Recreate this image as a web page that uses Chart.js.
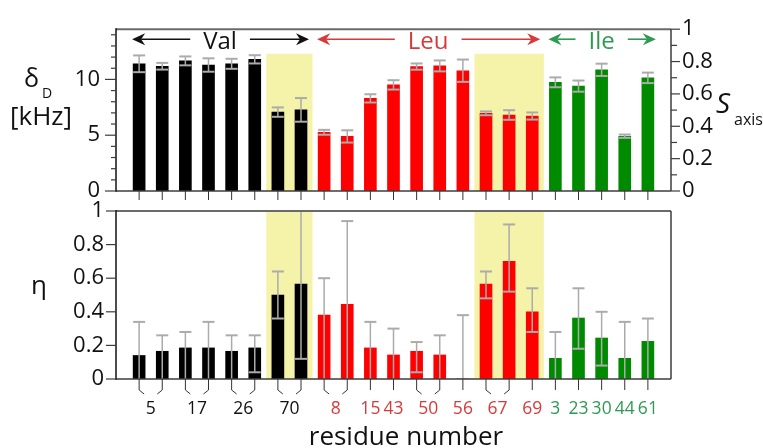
<!DOCTYPE html>
<html>
<head>
<meta charset="utf-8">
<script src="https://cdn.jsdelivr.net/npm/chart.js@4/dist/chart.umd.min.js"></script>
<style>
html,body{margin:0;padding:0;background:#fff;}
#wrap{position:relative;width:763px;height:448px;overflow:hidden;font-family:'Open Sans',sans-serif;color:#111;}
canvas{position:absolute;left:0;top:0;}
.lbl{position:absolute;white-space:nowrap;line-height:1;color:#111;}
</style>
</head>
<body>
<div id="wrap">
<canvas id="topChart" width="763" height="448"></canvas>
<canvas id="botChart" width="763" height="448"></canvas>
<div class="lbl" style="left:24px;top:65px;font-size:25px;">δ</div>
<div class="lbl" style="left:42px;top:86px;font-size:14px;">D</div>
<div class="lbl" style="left:10px;top:102px;font-size:26px;">[kHz]</div>
<div class="lbl" style="left:716px;top:88px;font-size:28px;font-style:italic;">S</div>
<div class="lbl" style="left:734px;top:111px;font-size:16px;">axis</div>
<div class="lbl" style="left:31px;top:271px;font-size:26px;">η</div>
<div class="lbl" style="left:406px;top:422px;font-size:26px;transform:translateX(-50%);">residue number</div>
</div>
<script>
// ---------- data ----------
const residues          = ['5','17','26','70','8','15','43','50','56','67','69','3','23','30','44','61'];
const residueAA         = ['Val','Val','Val','Val','Leu','Leu','Leu','Leu','Leu','Leu','Leu','Ile','Ile','Ile','Ile','Ile'];
const methylsPerResidue = [2,2,2,2,2,1,1,2,1,2,1,1,1,1,1,1];
const highlightedResidues = ['70','67','69'];
const aminoAcids        = ['Val','Leu','Ile'];

// residual quadrupolar coupling δD (kHz) and its error, one per methyl bar
const deltaD    = [11.4,11.18,11.66,11.29,11.4,11.8,7.07,7.27,5.26,4.89,8.30,9.51,11.15,11.21,10.78,6.96,6.81,6.72,9.74,9.40,10.86,4.91,10.14];
const deltaDErr = [0.75,0.30,0.40,0.60,0.45,0.37,0.42,1.06,0.22,0.55,0.37,0.42,0.28,0.49,1.00,0.17,0.43,0.32,0.44,0.50,0.55,0.15,0.47];

// asymmetry parameter η with upper / lower error limits (null = below 0)
const eta     = [0.14,0.165,0.185,0.185,0.165,0.185,0.50,0.565,0.38,0.445,0.185,0.143,0.165,0.143,0.0,0.565,0.70,0.40,0.123,0.363,0.244,0.123,0.224];
const etaHigh = [0.34,0.26,0.28,0.34,0.26,0.26,0.64,1.00,0.60,0.94,0.34,0.30,0.22,0.26,0.38,0.64,0.92,0.54,0.28,0.54,0.40,0.34,0.36];
const etaLow  = [null,null,null,null,null,0.04,0.36,0.12,null,null,null,null,0.04,null,null,0.48,0.52,0.28,null,0.18,0.08,null,null];

const kHzTicks      = [0,1,2,3,4,5,6,7,8,9,10,11,12,13,14];
const kHzTickLabels = ['0','','','','','5','','','','','10','','','',''];
const sTicks        = [0,0.1,0.2,0.3,0.4,0.5,0.6,0.7,0.8,0.9,1];
const sTickLabels   = ['0','','0.2','','0.4','','0.6','','0.8','','1'];
const etaTicks      = [0,0.2,0.4,0.6,0.8,1];
const etaTickLabels = ['0','0.2','0.4','0.6','0.8','1'];

// ---------- styling ----------
const barColor  = {Val:'#000000', Leu:'#ff0000', Ile:'#008a00'};
const textColor = {Val:'#111111', Leu:'#d63a3a', Ile:'#2f9a52'};
const FONT = "'Open Sans', sans-serif";
const ERR = '#ababab';
const FRAME = '#3c3c3c';
const HIGHLIGHT = '#f5f2aa';

// ---------- derived layout helpers ----------
const barAA = [], barResidue = [];
residues.forEach((r, k) => { for (let j = 0; j < methylsPerResidue[k]; j++) { barAA.push(residueAA[k]); barResidue.push(k); } });
const barX = barAA.map((_, i) => i + 1);
const residueBars = residues.map((_, k) => barX.filter((x, i) => barResidue[i] === k));
const residueX = residueBars.map(b => (b[0] + b[b.length - 1]) / 2);
const highlightRuns = [];
barX.forEach((x, i) => {
  if (highlightedResidues.includes(residues[barResidue[i]])) {
    const last = highlightRuns[highlightRuns.length - 1];
    if (last && last[1] === x - 1) last[1] = x; else highlightRuns.push([x, x]);
  }
});

function drawHighlights(chart, topVal) {
  const {ctx, chartArea: a, scales: {x, y}} = chart;
  ctx.save();
  ctx.fillStyle = HIGHLIGHT;
  highlightRuns.forEach(([s, e]) => {
    const l = x.getPixelForValue(s - 0.5), r = x.getPixelForValue(e + 0.5);
    const t = topVal == null ? a.top : y.getPixelForValue(topVal);
    ctx.fillRect(l, t, r - l, a.bottom - t);
  });
  ctx.restore();
}
function line(ctx, x1, y1, x2, y2) { ctx.beginPath(); ctx.moveTo(x1, y1); ctx.lineTo(x2, y2); ctx.stroke(); }
function drawYTicks(ctx, scale, ticks, labels, side, majorLen, minorLen) {
  ticks.forEach((v, i) => {
    const py = scale.getPixelForValue(v);
    const len = labels[i] !== '' ? majorLen : minorLen;
    const x0 = side === 'left' ? scale.right : scale.left;
    line(ctx, x0, py, side === 'left' ? x0 - len : x0 + len, py);
  });
}
function arrowHead(ctx, tx, ty, dir) {
  ctx.beginPath();
  ctx.moveTo(tx, ty);
  ctx.lineTo(tx - dir * 13, ty - 6);
  ctx.lineTo(tx - dir * 9, ty);
  ctx.lineTo(tx - dir * 13, ty + 6);
  ctx.closePath();
  ctx.fill();
}

const topDeco = {
  id: 'topDeco',
  beforeDatasetsDraw(chart) { drawHighlights(chart, 12.3); },
  afterDatasetsDraw(chart) {
    const {ctx, scales: {x, y}} = chart;
    ctx.save();
    ctx.strokeStyle = ERR;
    deltaD.forEach((v, i) => {
      const xc = x.getPixelForValue(barX[i]);
      const yt = y.getPixelForValue(v + deltaDErr[i]), yb = y.getPixelForValue(v - deltaDErr[i]);
      ctx.lineWidth = 1.5; line(ctx, xc, yt, xc, yb);
      ctx.lineWidth = 2; line(ctx, xc - 6, yt, xc + 6, yt); line(ctx, xc - 6, yb, xc + 6, yb);
    });
    ctx.restore();
  },
  afterDraw(chart) {
    const {ctx, chartArea: a, scales: {x, y, y2}} = chart;
    ctx.save();
    // frame
    ctx.strokeStyle = '#6a6a6a'; ctx.lineWidth = 2; line(ctx, a.left, a.top, a.right, a.top);
    ctx.strokeStyle = FRAME; ctx.lineWidth = 1.5;
    line(ctx, a.right, a.top, a.right, a.bottom);
    line(ctx, a.left, a.bottom, a.right, a.bottom);
    ctx.strokeStyle = '#111'; line(ctx, a.left, a.top - 1, a.left, a.bottom + 0.75);
    ctx.strokeStyle = FRAME; ctx.lineWidth = 1.2;
    drawYTicks(ctx, y, kHzTicks, kHzTickLabels, 'left', 11, 5);
    drawYTicks(ctx, y2, sTicks, sTickLabels, 'right', 9, 6);
    // x ticks under the upper panel
    ctx.lineWidth = 1; ctx.strokeStyle = '#333';
    barX.forEach(v => { const px = x.getPixelForValue(v); line(ctx, px, a.bottom, px, a.bottom + 9); });
    // amino acid group arrows
    ctx.font = '24px ' + FONT;
    ctx.textAlign = 'center'; ctx.textBaseline = 'alphabetic';
    const ay = a.top + 10;
    aminoAcids.forEach(aa => {
      const idx = barX.filter((v, i) => barAA[i] === aa);
      const x1 = x.getPixelForValue(idx[0]), x2 = x.getPixelForValue(idx[idx.length - 1]);
      const cx = (x1 + x2) / 2;
      const w = ctx.measureText(aa).width;
      const col = textColor[aa];
      ctx.fillStyle = col; ctx.strokeStyle = col; ctx.lineWidth = 1.6;
      ctx.fillText(aa, cx, a.top + 20);
      const lt = x1 - 7, rt = x2 + 8;
      line(ctx, lt + 9, ay, cx - w / 2 - 13, ay);
      line(ctx, cx + w / 2 + 13, ay, rt - 9, ay);
      arrowHead(ctx, lt, ay, -1);
      arrowHead(ctx, rt, ay, 1);
    });
    ctx.restore();
  }
};

const botDeco = {
  id: 'botDeco',
  beforeDatasetsDraw(chart) { drawHighlights(chart, null); },
  afterDatasetsDraw(chart) {
    const {ctx, scales: {x, y}} = chart;
    ctx.save();
    ctx.strokeStyle = ERR;
    eta.forEach((v, i) => {
      const xc = x.getPixelForValue(barX[i]);
      const yt = y.getPixelForValue(etaHigh[i]);
      const yb = y.getPixelForValue(etaLow[i] == null ? 0 : etaLow[i]);
      ctx.lineWidth = 1.5; line(ctx, xc, yt, xc, yb);
      ctx.lineWidth = 2; line(ctx, xc - 6, yt, xc + 6, yt);
      if (etaLow[i] != null) line(ctx, xc - 6, yb, xc + 6, yb);
    });
    ctx.restore();
  },
  afterDraw(chart) {
    const {ctx, chartArea: a, scales: {x, y}} = chart;
    ctx.save();
    ctx.strokeStyle = '#6a6a6a'; ctx.lineWidth = 2; line(ctx, a.left, a.top, a.right, a.top);
    ctx.strokeStyle = FRAME; ctx.lineWidth = 1.5;
    line(ctx, a.right, a.top, a.right, a.bottom);
    line(ctx, a.left, a.bottom, a.right, a.bottom);
    ctx.strokeStyle = '#111'; line(ctx, a.left, a.top - 1, a.left, a.bottom + 0.75);
    ctx.strokeStyle = FRAME; ctx.lineWidth = 1.2;
    drawYTicks(ctx, y, etaTicks, etaTickLabels, 'left', 10, 10);
    // brackets grouping methyls of one residue
    ctx.lineWidth = 1; ctx.strokeStyle = '#333';
    residueBars.forEach(b => {
      if (b.length === 1) {
        const px = x.getPixelForValue(b[0]);
        line(ctx, px, a.bottom, px, a.bottom + 11);
      } else {
        const p1 = x.getPixelForValue(b[0]), p2 = x.getPixelForValue(b[b.length - 1]);
        ctx.beginPath(); ctx.moveTo(p1, a.bottom); ctx.lineTo(p1, a.bottom + 11); ctx.lineTo(p1 + 5, a.bottom + 15); ctx.stroke();
        ctx.beginPath(); ctx.moveTo(p2, a.bottom); ctx.lineTo(p2, a.bottom + 11); ctx.lineTo(p2 - 5, a.bottom + 15); ctx.stroke();
      }
    });
    ctx.restore();
  }
};

const hiddenGrid = {display: false, drawTicks: false, offset: false};

new Chart(document.getElementById('topChart'), {
  type: 'bar',
  data: { datasets: [{
    data: deltaD.map((v, i) => ({x: barX[i], y: v})),
    backgroundColor: barAA.map(t => barColor[t]),
    barThickness: 12, yAxisID: 'y'
  }]},
  options: {
    responsive: false, animation: false, events: [],
    layout: {padding: {top: 23, bottom: 257, left: 0, right: 0}},
    plugins: {legend: {display: false}, tooltip: {enabled: false}},
    scales: {
      x: {type: 'linear', min: 0, max: 24, offset: false, display: false, grid: hiddenGrid},
      y: {
        position: 'left', min: 0, max: 14.5,
        afterFit(s) { s.width = 116; },
        afterBuildTicks(s) { s.ticks = kHzTicks.map(v => ({value: v})); },
        ticks: {autoSkip: false, padding: 16, color: '#111', font: {family: FONT, size: 22},
                callback: (v, i) => kHzTickLabels[i]},
        grid: hiddenGrid, border: {display: false}
      },
      y2: {
        position: 'right', min: 0, max: 1,
        afterFit(s) { s.width = 92; },
        afterBuildTicks(s) { s.ticks = sTicks.map(v => ({value: v})); },
        ticks: {autoSkip: false, padding: 11, color: '#111', font: {family: FONT, size: 22},
                callback: (v, i) => sTickLabels[i]},
        grid: hiddenGrid, border: {display: false}
      }
    }
  },
  plugins: [topDeco]
});

new Chart(document.getElementById('botChart'), {
  type: 'bar',
  data: { datasets: [{
    data: eta.map((v, i) => ({x: barX[i], y: v})),
    backgroundColor: barAA.map(t => barColor[t]),
    barThickness: 12
  }]},
  options: {
    responsive: false, animation: false, events: [],
    layout: {padding: {top: 211, bottom: 0, left: 0, right: 92}},
    plugins: {legend: {display: false}, tooltip: {enabled: false}},
    scales: {
      x: {
        type: 'linear', min: 0, max: 24, offset: false,
        afterFit(s) { s.height = 69; },
        afterBuildTicks(s) { s.ticks = residueX.map(v => ({value: v})); },
        ticks: {autoSkip: false, maxRotation: 0, padding: 20, font: {family: FONT, size: 17.5},
                color: c => textColor[residueAA[c.index]],
                callback: (v, i) => residues[i]},
        grid: hiddenGrid, border: {display: false}
      },
      y: {
        position: 'left', min: 0, max: 1,
        afterFit(s) { s.width = 116; },
        afterBuildTicks(s) { s.ticks = etaTicks.map(v => ({value: v})); },
        ticks: {autoSkip: false, padding: 12, color: '#111', font: {family: FONT, size: 22},
                callback: (v, i) => etaTickLabels[i]},
        grid: hiddenGrid, border: {display: false}
      }
    }
  },
  plugins: [botDeco]
});
</script>
</body>
</html>
